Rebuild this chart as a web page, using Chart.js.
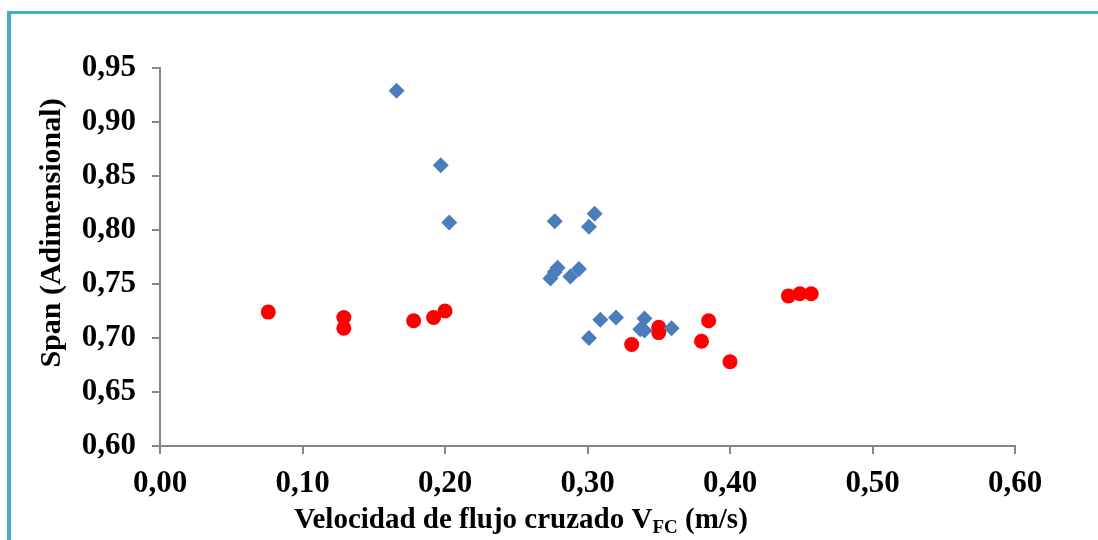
<!DOCTYPE html>
<html>
<head>
<meta charset="utf-8">
<script src="https://cdn.jsdelivr.net/npm/chart.js@4/dist/chart.umd.min.js"></script>
<style>
  html, body { margin: 0; padding: 0; background: #ffffff; overflow: hidden; }
  #wrap { position: relative; width: 1098px; height: 540px; }
  #frame {
    position: absolute; left: 7px; top: 11px; width: 1200px; height: 700px;
    border-left: 4px solid #4bacc6; border-top: 3px solid #4bacc6; box-sizing: border-box;
  }
  #c { position: absolute; left: 0; top: 0; }
</style>
</head>
<body>
<div id="wrap">
  <div id="frame"></div>
  <canvas id="c" width="1098" height="540"></canvas>
</div>
<script>
// Series 1 (blue diamonds): cross-flow velocity (m/s) and span
const blueX = [0.166, 0.197, 0.203, 0.277, 0.305, 0.301, 0.279, 0.277, 0.274, 0.294, 0.288,
               0.309, 0.320, 0.340, 0.337, 0.340, 0.301, 0.359];
const blueY = [0.929, 0.860, 0.807, 0.808, 0.815, 0.803, 0.765, 0.761, 0.755, 0.764, 0.757,
               0.717, 0.719, 0.718, 0.708, 0.707, 0.700, 0.709];

// Series 2 (red circles)
const redX = [0.076, 0.129, 0.129, 0.178, 0.192, 0.200, 0.331, 0.350, 0.350, 0.380, 0.385,
              0.400, 0.441, 0.449, 0.457];
const redY = [0.724, 0.719, 0.709, 0.716, 0.719, 0.725, 0.694, 0.710, 0.705, 0.697, 0.716,
              0.678, 0.739, 0.741, 0.741];

// Axis ranges and tick steps
const xTicks = [0.00, 0.10, 0.20, 0.30, 0.40, 0.50, 0.60];
const yTicks = [0.60, 0.65, 0.70, 0.75, 0.80, 0.85, 0.90, 0.95];

const yTitle = 'Span (Adimensional)';
const xTitleMain = 'Velocidad de flujo cruzado V';
const xTitleSub = 'FC';
const xTitleEnd = ' (m/s)';

const toPoints = (xs, ys) => xs.map((x, i) => ({ x: x, y: ys[i] }));
const fmt = v => v.toFixed(2).replace('.', ',');

const FONT = '"Liberation Serif", "Times New Roman", serif';
const AXIS_GREY = '#878787';

// Axis titles drawn by hand so the subscript can be rendered
const titles = {
  id: 'titles',
  afterDraw(chart) {
    const ctx = chart.ctx;
    ctx.save();
    ctx.fillStyle = '#000';
    // y title, rotated
    ctx.font = 'bold 30px ' + FONT;
    ctx.translate(52, 233);
    ctx.rotate(-Math.PI / 2);
    ctx.textAlign = 'center';
    ctx.textBaseline = 'middle';
    ctx.fillText(yTitle, 0, 0);
    ctx.restore();

    ctx.save();
    ctx.fillStyle = '#000';
    ctx.textBaseline = 'alphabetic';
    ctx.textAlign = 'left';
    const big = 'bold 29px ' + FONT;
    const small = 'bold 19px ' + FONT;
    ctx.font = big;
    const w1 = ctx.measureText(xTitleMain).width;
    const w3 = ctx.measureText(xTitleEnd).width;
    ctx.font = small;
    const w2 = ctx.measureText(xTitleSub).width;
    const total = w1 + w2 + w3;
    let x = 521 - total / 2;
    const base = 528;
    ctx.font = big;
    ctx.fillText(xTitleMain, x, base);
    x += w1;
    ctx.font = small;
    ctx.fillText(xTitleSub, x, base + 5);
    x += w2;
    ctx.font = big;
    ctx.fillText(xTitleEnd, x, base);
    ctx.restore();
  }
};

new Chart(document.getElementById('c'), {
  type: 'scatter',
  data: {
    datasets: [
      {
        data: toPoints(blueX, blueY),
        pointStyle: 'rectRot',
        pointRadius: 8,
        pointHoverRadius: 8,
        backgroundColor: '#4a7ebb',
        borderColor: '#4a7ebb',
        borderWidth: 0
      },
      {
        data: toPoints(redX, redY),
        pointStyle: 'circle',
        pointRadius: 7.5,
        pointHoverRadius: 7.5,
        backgroundColor: '#ff0000',
        borderColor: '#ff0000',
        borderWidth: 0
      }
    ]
  },
  options: {
    responsive: false,
    animation: false,
    devicePixelRatio: 1,
    layout: { padding: { left: 0, right: 83, top: 68, bottom: 0 } },
    plugins: { legend: { display: false }, tooltip: { enabled: false } },
    scales: {
      x: {
        type: 'linear',
        min: xTicks[0],
        max: xTicks[xTicks.length - 1],
        afterBuildTicks: s => { s.ticks = xTicks.map(v => ({ value: v })); },
        afterFit: s => { s.height = 94; },
        ticks: {
          callback: v => fmt(v),
          color: '#000',
          font: { family: FONT, size: 31, weight: 'bold' },
          padding: 11,
          maxRotation: 0
        },
        grid: { drawOnChartArea: false, drawTicks: true, tickLength: 8, color: AXIS_GREY, lineWidth: 2 },
        border: { display: true, color: AXIS_GREY, width: 2 }
      },
      y: {
        type: 'linear',
        min: yTicks[0],
        max: yTicks[yTicks.length - 1],
        afterBuildTicks: s => { s.ticks = yTicks.map(v => ({ value: v })); },
        afterFit: s => { s.width = 160; },
        ticks: {
          callback: v => fmt(v),
          color: '#000',
          font: { family: FONT, size: 31, weight: 'bold' },
          padding: 16
        },
        grid: { drawOnChartArea: false, drawTicks: true, tickLength: 8, color: AXIS_GREY, lineWidth: 2 },
        border: { display: true, color: AXIS_GREY, width: 2 }
      }
    }
  },
  plugins: [titles]
});
</script>
</body>
</html>
